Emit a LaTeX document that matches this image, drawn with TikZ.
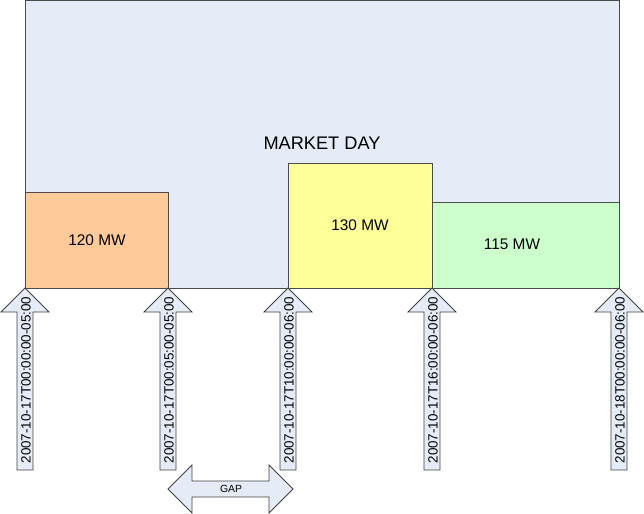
\documentclass[tikz,border=0pt]{standalone}
\usepackage{fontspec}
\setmainfont{Liberation Sans}
\begin{document}
\begin{tikzpicture}[x=1bp,y=-1bp,
  box/.style={draw=black!70,line width=0.8bp},
  arr/.style={draw=black!75,fill=dayfill,line width=0.8bp},
  stamp/.style={rotate=90,inner sep=0pt,font=\fontsize{13.4bp}{14bp}\selectfont},
  mw/.style={font=\fontsize{15.4bp}{16bp}\selectfont}]
\definecolor{dayfill}{HTML}{E6ECF7}
\definecolor{orangefill}{HTML}{FFCA99}
\definecolor{yellowfill}{HTML}{FFFF99}
\definecolor{greenfill}{HTML}{CCFFCC}
\useasboundingbox (0,0) rectangle (644,514);
% market day
\draw[box,fill=dayfill] (25,0.5) rectangle (619,288);
\node[font=\fontsize{18.2bp}{19bp}\selectfont] (day) at (322,143) {MARKET DAY};
% blocks
\draw[box,fill=orangefill] (25,192) rectangle (168,288);
\node[mw] (b120) at (97,240) {120 MW};
\draw[box,fill=yellowfill] (288,163) rectangle (432,288);
\node[mw] (b130) at (360,225) {130 MW};
\draw[box,fill=greenfill] (432,202) rectangle (619,288);
\node[mw] (b115) at (512,244) {115 MW};
% arrows
\foreach \cx/\t/\n in {25/2007-10-17T00:00:00-05:00/a1,
                       168/2007-10-17T00:05:00-05:00/a2,
                       288/2007-10-17T10:00:00-06:00/a3,
                       432/2007-10-17T16:00:00-06:00/a4,
                       619/2007-10-18T00:00:00-06:00/a5}{
  \draw[arr] (\cx,288) -- (\cx+24,312) -- (\cx+8,312) -- (\cx+8,470)
     -- (\cx-8,470) -- (\cx-8,312) -- (\cx-24,312) -- cycle;
  \node[stamp] (\n) at (\cx+1,380) {\t};
}
% gap arrow
\draw[arr] (168,489) -- (192,465) -- (192,481) -- (269,481) -- (269,465)
   -- (293,489) -- (269,513) -- (269,497) -- (192,497) -- (192,513) -- cycle;
\node[font=\fontsize{10.4bp}{11bp}\selectfont] (gap) at (231,489) {GAP};
\end{tikzpicture}
\end{document}
